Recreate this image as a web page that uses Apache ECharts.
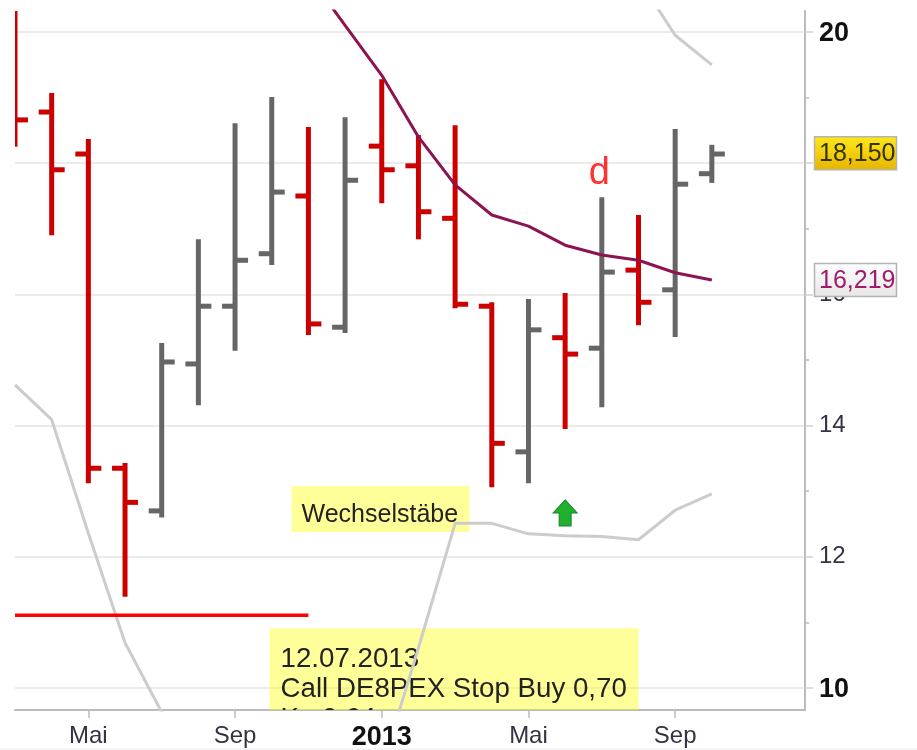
<!DOCTYPE html>
<html>
<head>
<meta charset="utf-8">
<style>
  html, body { margin: 0; padding: 0; background: #fff; }
  #chart { width: 917px; height: 750px; }
</style>
<script src="https://cdn.jsdelivr.net/npm/echarts@6/dist/echarts.min.js"></script>
</head>
<body>
<div id="chart"></div>
<script>
// monthly bars, Mar 2012 - Oct 2013
const months = ['Mrz', 'Apr', 'Mai', 'Jun', 'Jul', 'Aug', 'Sep', 'Okt', 'Nov', 'Dez', '2013', 'Feb', 'Mrz', 'Apr', 'Mai', 'Jun', 'Jul', 'Aug', 'Sep', 'Okt']
const openValues = [19.2, 18.78, 18.14, 13.35, 12.7, 14.94, 15.82, 16.62, 17.5, 15.5, 18.26, 17.96, 17.16, 15.82, 13.6, 15.34, 15.18, 16.37, 16.07, 17.84]
const highValues = [20.6, 19.07, 18.37, 13.43, 15.26, 16.84, 18.61, 19.01, 18.55, 18.7, 19.28, 18.43, 18.58, 15.88, 15.93, 16.02, 17.48, 17.21, 18.52, 18.28]
const lowValues = [18.25, 16.9, 13.12, 11.39, 12.6, 14.31, 15.14, 16.45, 15.38, 15.41, 17.39, 16.84, 15.79, 13.06, 13.12, 13.95, 14.28, 15.53, 15.35, 17.7]
const closeValues = [18.66, 17.9, 13.35, 12.83, 14.97, 15.82, 16.52, 17.56, 15.55, 17.74, 17.9, 17.26, 15.85, 13.73, 15.46, 15.09, 16.34, 15.88, 17.68, 18.14]

// moving average and bands, one value per bar from the given start index
const maStart = 8
const maValues = [20.87, 20.1, 19.34, 18.4, 17.67, 17.21, 17.04, 16.75, 16.6, 16.52, 16.33, 16.219]
const upperStart = 17
const upperValues = [20.81, 19.95, 19.5]
const lowerValues = [14.62, 14.09, 12.36, 10.69, 9.63, 8.5, 8.2, 8.1, 8.0, 8.2, 8.78, 10.61, 12.51, 12.51, 12.35, 12.32, 12.31, 12.26, 12.71, 12.96]

const stopLevel = 11.11
const stopFrom = 0
const stopTo = 8

const xTickValues = [2, 6, 10, 14, 18]
const yTickValues = [10, 12, 14, 16, 18, 20]
const yMinorValues = [11, 13, 15, 17, 19]
const priceTags = [18.15, 16.219]

const noteTexts = ['Wechselstäbe', '12.07.2013\nCall DE8PEX Stop Buy 0,70\nKu 0,64']
const noteAnchors = [[7.54, 13.08], [6.94, 10.91]]
const signalIndex = 15
const signalValue = 12.67
const letterIndex = 15.93
const letterValue = 17.85

const FONT = '"Liberation Sans", Arial, sans-serif'
const RED = '#cc0000'
const GREY = '#666666'

const chart = echarts.init(document.getElementById('chart'))

function pairs(start, values) {
  return values.map((v, i) => [start + i, v])
}

function renderBar(params, api) {
  const i = api.value(0)
  const hi = api.coord([i, api.value(2)])
  const lo = api.coord([i, api.value(3)])
  const op = api.coord([i, api.value(1)])
  const cl = api.coord([i, api.value(4)])
  const color = api.value(4) < api.value(1) ? RED : GREY
  const style = { fill: color }
  return {
    type: 'group',
    children: [
      { type: 'rect', shape: { x: hi[0] - 2.5, y: hi[1], width: 5, height: lo[1] - hi[1] }, style },
      { type: 'rect', shape: { x: op[0] - 13, y: op[1] - 2.5, width: 13, height: 5 }, style },
      { type: 'rect', shape: { x: cl[0], y: cl[1] - 2.5, width: 13, height: 5 }, style }
    ]
  }
}

function renderNote(params, api) {
  const i = params.dataIndex
  const p = api.coord([api.value(0), api.value(1)])
  const big = i === 1
  return {
    type: 'group',
    children: [
      { type: 'rect', shape: { x: p[0], y: p[1], width: big ? 369 : 178, height: big ? 120 : 46 }, style: { fill: 'rgba(255,255,0,0.4)' } },
      {
        type: 'text',
        style: {
          x: p[0] + (big ? 11 : 10),
          y: p[1] + (big ? 16 : 15),
          text: noteTexts[i],
          font: (big ? 27.7 : 25) + 'px ' + FONT,
          lineHeight: big ? 30 : 28,
          fill: '#222222'
        }
      }
    ]
  }
}

function renderTag(params, api) {
  const v = api.value(1)
  const y = api.coord([0, v])[1]
  const x = params.coordSys.x + params.coordSys.width + 9.5
  const first = params.dataIndex === 0
  const fill = new echarts.graphic.LinearGradient(0, 0, 0, 1, first
    ? [{ offset: 0, color: '#ffe81a' }, { offset: 1, color: '#e6b400' }]
    : [{ offset: 0, color: '#ffffff' }, { offset: 1, color: '#e6e6e6' }])
  return {
    type: 'group',
    children: [
      { type: 'rect', shape: { x, y: y - 16.5, width: 82, height: 33 }, style: { fill, stroke: '#b4b4b4', lineWidth: 1.5 } },
      {
        type: 'text',
        style: {
          x: x + 81,
          y: y + 1,
          text: v.toFixed(3).replace('.', ','),
          align: 'right',
          verticalAlign: 'middle',
          font: '25px ' + FONT,
          fill: first ? '#333300' : '#a01c6a'
        }
      }
    ]
  }
}

chart.setOption({
  animation: false,
  backgroundColor: '#fff',
  // faint edge line along the bottom of the picture
  graphic: [{
    type: 'line',
    shape: { x1: 0, y1: 749, x2: 917, y2: 749 },
    style: { stroke: '#ececec', lineWidth: 1 }
  }],
  grid: { left: 15, right: 112, top: 11, bottom: 40, outerBoundsMode: 'none' },
  xAxis: {
    type: 'value',
    min: 0,
    max: 21.54,
    axisLine: { onZero: false, lineStyle: { color: '#bbbbbb', width: 2 } },
    axisTick: { customValues: xTickValues, length: 8, lineStyle: { color: '#bbbbbb', width: 1.5 } },
    axisLabel: {
      customValues: xTickValues,
      margin: 14,
      formatter: v => months[v] === '2013' ? '{b|2013}' : months[v],
      color: '#333344',
      fontSize: 24,
      fontFamily: FONT,
      rich: { b: { fontSize: 27, fontWeight: 'bold', color: '#111111', fontFamily: FONT } }
    },
    splitLine: { show: false }
  },
  yAxis: [{
    type: 'value',
    position: 'right',
    min: 9.665,
    max: 20.32,
    axisLine: { show: true, onZero: false, lineStyle: { color: '#bbbbbb', width: 2 } },
    axisTick: { show: true, customValues: yTickValues, length: 8, lineStyle: { color: '#d0d0d0', width: 1.5 } },
    axisLabel: {
      customValues: yTickValues,
      margin: 14,
      formatter: v => (v === 10 || v === 20) ? '{b|' + v + '}' : '' + v,
      color: '#333344',
      fontSize: 24,
      fontFamily: FONT,
      rich: { b: { fontSize: 27, fontWeight: 'bold', color: '#111111', fontFamily: FONT, padding: [4, 0, 0, 0] } }
    },
    splitLine: { show: true, lineStyle: { color: '#ebebeb', width: 2 } }
  }, {
    // second copy of the scale only for the short odd ticks
    type: 'value',
    position: 'right',
    min: 9.665,
    max: 20.32,
    axisLine: { show: false, onZero: false },
    axisTick: { show: true, customValues: yMinorValues, length: 4, lineStyle: { color: '#bbbbbb', width: 1.5 } },
    axisLabel: { show: false },
    splitLine: { show: false }
  }],
  series: [
    {
      type: 'custom',
      z: 1,
      clip: true,
      renderItem: renderNote,
      encode: { x: 0, y: 1 },
      data: noteAnchors
    },
    {
      type: 'line',
      z: 2,
      showSymbol: false,
      data: pairs(0, lowerValues),
      lineStyle: { color: '#cccccc', width: 3 }
    },
    {
      type: 'line',
      z: 2,
      showSymbol: false,
      data: pairs(upperStart, upperValues),
      lineStyle: { color: '#cccccc', width: 3 }
    },
    {
      type: 'line',
      z: 2,
      showSymbol: false,
      data: [[stopFrom, stopLevel], [stopTo, stopLevel]],
      lineStyle: { color: '#ff0000', width: 3.5 }
    },
    {
      type: 'custom',
      z: 3,
      clip: true,
      renderItem: renderBar,
      encode: { x: 0, y: [1, 2, 3, 4] },
      data: months.map((m, i) => [i, openValues[i], highValues[i], lowValues[i], closeValues[i]])
    },
    {
      type: 'line',
      z: 4,
      showSymbol: false,
      data: pairs(maStart, maValues),
      lineStyle: { color: '#8c1450', width: 3 }
    },
    {
      type: 'scatter',
      z: 5,
      symbol: 'path://M12 0 L24 13 L18 13 L18 26 L6 26 L6 13 L0 13 Z',
      symbolSize: [24, 26],
      data: [[signalIndex, signalValue]],
      itemStyle: { color: '#1fb02e', borderColor: '#14862a', borderWidth: 1, opacity: 1 }
    },
    {
      type: 'scatter',
      z: 5,
      symbolSize: 0,
      data: [[letterIndex, letterValue]],
      label: {
        show: true,
        position: 'inside',
        formatter: 'd',
        color: '#ff0000',
        fontSize: 38,
        fontFamily: FONT
      }
    },
    {
      type: 'custom',
      z: 6,
      clip: false,
      renderItem: renderTag,
      encode: { x: 0, y: 1 },
      data: priceTags.map(v => [19, v])
    }
  ]
})
</script>
</body>
</html>
